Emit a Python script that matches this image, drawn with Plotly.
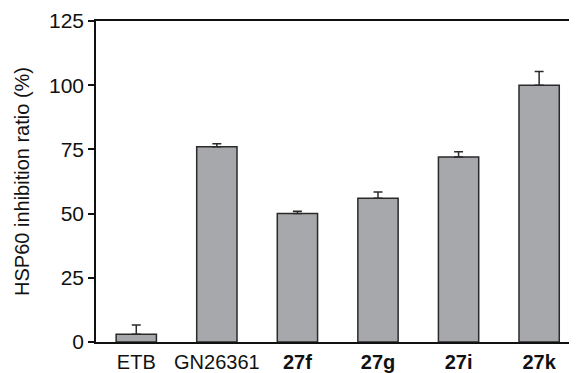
import plotly.graph_objects as go

categories = ["ETB", "GN26361", "27f", "27g", "27i", "27k"]
tick_labels = ["ETB", "GN26361", "<b>27f</b>", "<b>27g</b>", "<b>27i</b>", "<b>27k</b>"]
values = [3.0, 76.0, 50.0, 56.0, 72.0, 100.0]
errors = [3.6, 1.2, 0.9, 2.4, 2.1, 5.3]
y_ticks = [0, 25, 50, 75, 100, 125]

fig = go.Figure()
fig.add_trace(go.Bar(
    x=categories, y=values, width=0.5,
    marker=dict(color="#a7a8ab", line=dict(color="#2a2a2a", width=1.5)),
    error_y=dict(type="data", array=errors, arrayminus=[0]*len(errors),
                 symmetric=False, color="#2a2a2a", thickness=1.5, width=4.5),
))

# page body has an 8px default margin; figure sized to fill the 577x373 window
font = dict(family="Liberation Sans, Arial, sans-serif", size=21, color="#111")
fig.update_layout(
    width=569, height=365,
    margin=dict(l=88, r=0, t=13, b=31),
    paper_bgcolor="white", plot_bgcolor="white",
    font=font, showlegend=False,
    xaxis=dict(
        tickmode="array", tickvals=categories, ticktext=tick_labels,
        range=[-0.5, 5.47], showline=True, linecolor="#111", linewidth=1.5,
        mirror=True, ticks="", showgrid=False, zeroline=False,
        tickfont=dict(size=20), automargin=False, ticklabelstandoff=1,
    ),
    yaxis=dict(
        range=[0, 125], tickvals=y_ticks, showline=True, linecolor="#111",
        linewidth=1.5, ticks="outside", ticklen=6, tickwidth=1.5, tickcolor="#111",
        showgrid=False, zeroline=False, automargin=False,
        title=dict(text="HSP60 inhibition ratio (%)", font=dict(size=20), standoff=14),
    ),
)
fig.write_html("out.html")
